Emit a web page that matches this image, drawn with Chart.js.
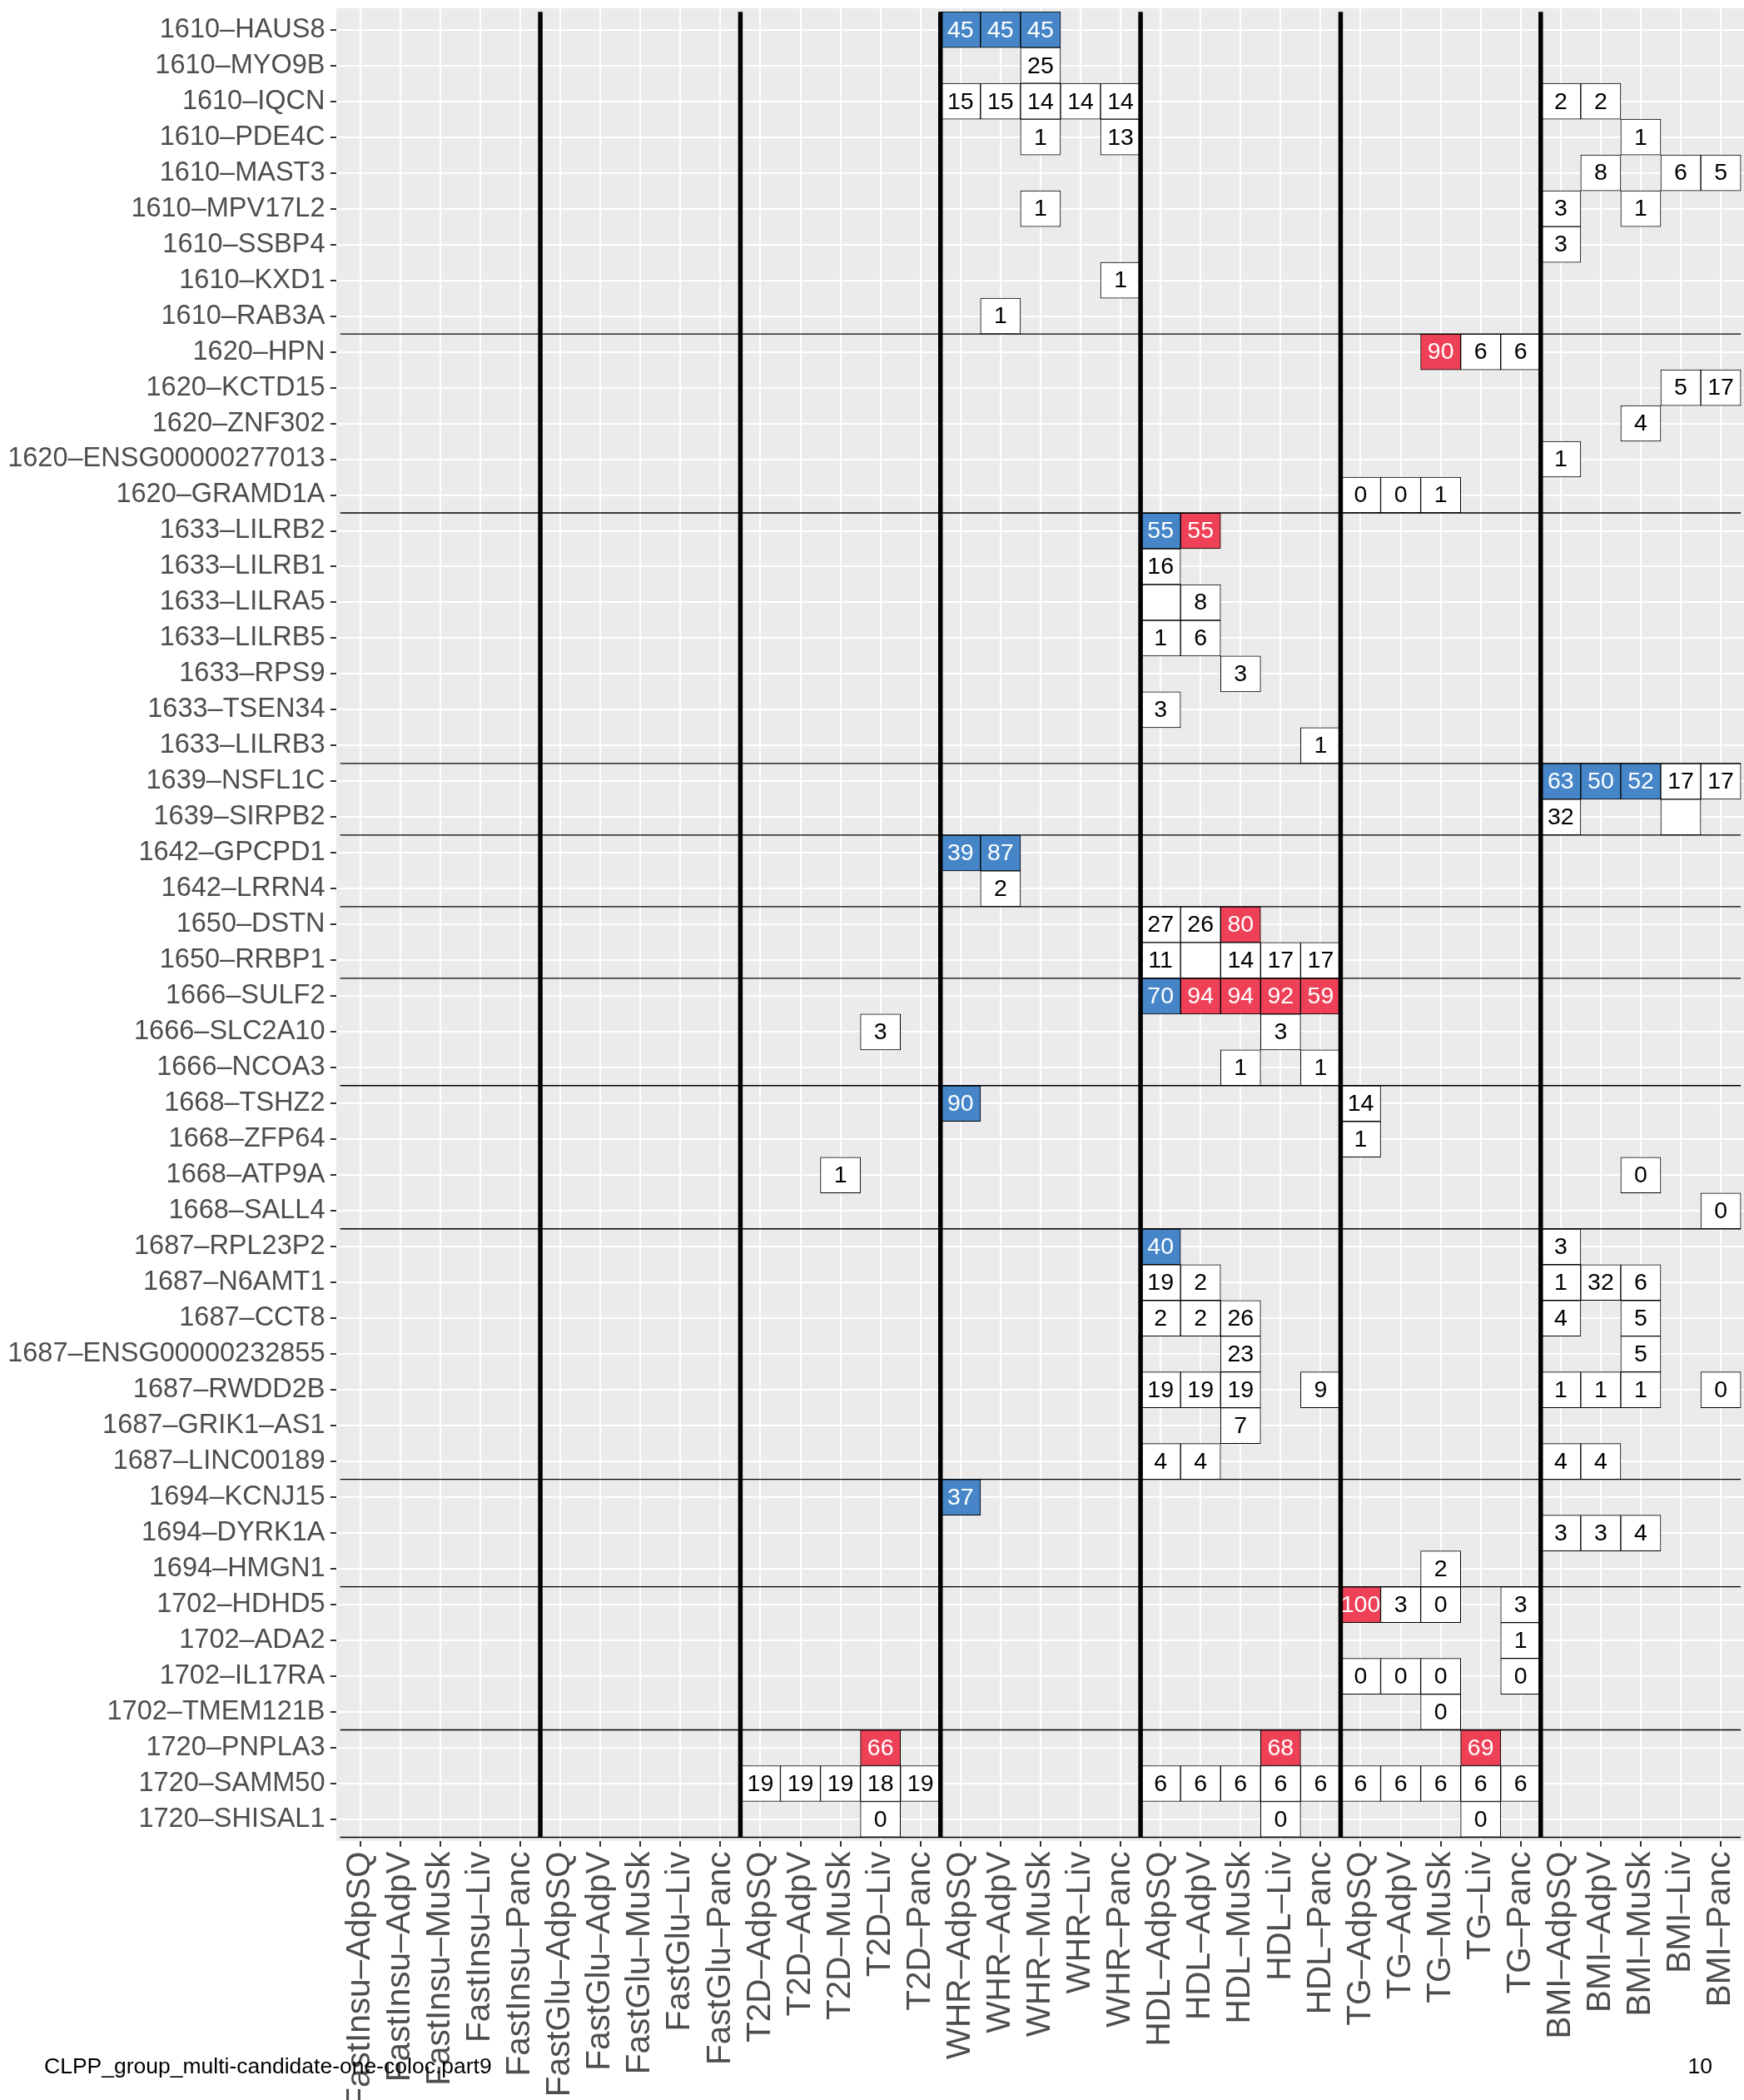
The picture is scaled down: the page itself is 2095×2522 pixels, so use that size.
<!DOCTYPE html>
<html>
<head>
<meta charset="utf-8">
<title>CLPP_group_multi-candidate-one-coloc.part9</title>
<script src="https://cdn.jsdelivr.net/npm/chart.js@4.4.1/dist/chart.umd.min.js"></script>
<style>
    html, body { margin: 0; padding: 0; background: #ffffff; }
    #area { position: relative; width: 2095px; height: 2522px; overflow: hidden; }
    #grafico { position: absolute; left: 0; top: 0; }
    .rodape {
        position: absolute;
        top: 2468px;
        font: 26.5px "Liberation Sans", Arial, sans-serif;
        line-height: 1;
        color: #000000;
        white-space: nowrap;
    }
</style>
</head>
<body>
<div id="area">
    <canvas id="grafico" width="2095" height="2522"></canvas>
    <div class="rodape" style="left: 53px;">CLPP_group_multi-candidate-one-coloc.part9</div>
    <div class="rodape" style="right: 38px;">10</div>
</div>

<script>
// linhas do eixo y, de cima para baixo
var linhas = [
    '1610–HAUS8', '1610–MYO9B', '1610–IQCN', '1610–PDE4C', '1610–MAST3',
    '1610–MPV17L2', '1610–SSBP4', '1610–KXD1', '1610–RAB3A',
    '1620–HPN', '1620–KCTD15', '1620–ZNF302', '1620–ENSG00000277013', '1620–GRAMD1A',
    '1633–LILRB2', '1633–LILRB1', '1633–LILRA5', '1633–LILRB5', '1633–RPS9',
    '1633–TSEN34', '1633–LILRB3',
    '1639–NSFL1C', '1639–SIRPB2',
    '1642–GPCPD1', '1642–LRRN4',
    '1650–DSTN', '1650–RRBP1',
    '1666–SULF2', '1666–SLC2A10', '1666–NCOA3',
    '1668–TSHZ2', '1668–ZFP64', '1668–ATP9A', '1668–SALL4',
    '1687–RPL23P2', '1687–N6AMT1', '1687–CCT8', '1687–ENSG00000232855',
    '1687–RWDD2B', '1687–GRIK1–AS1', '1687–LINC00189',
    '1694–KCNJ15', '1694–DYRK1A', '1694–HMGN1',
    '1702–HDHD5', '1702–ADA2', '1702–IL17RA', '1702–TMEM121B',
    '1720–PNPLA3', '1720–SAMM50', '1720–SHISAL1'
];

// colunas do eixo x: traço x tecido
var tracos = ['FastInsu', 'FastGlu', 'T2D', 'WHR', 'HDL', 'TG', 'BMI'];
var tecidos = ['AdpSQ', 'AdpV', 'MuSk', 'Liv', 'Panc'];
var colunas = [];
tracos.forEach(function (t) {
    tecidos.forEach(function (s) { colunas.push(t + '–' + s); });
});

// celulas: [linha, coluna, valor]  (null = celula sem numero)
var celulasAzuis = [
    ['1610–HAUS8', 'WHR–AdpSQ', 45], ['1610–HAUS8', 'WHR–AdpV', 45], ['1610–HAUS8', 'WHR–MuSk', 45],
    ['1633–LILRB2', 'HDL–AdpSQ', 55],
    ['1639–NSFL1C', 'BMI–AdpSQ', 63], ['1639–NSFL1C', 'BMI–AdpV', 50], ['1639–NSFL1C', 'BMI–MuSk', 52],
    ['1642–GPCPD1', 'WHR–AdpSQ', 39], ['1642–GPCPD1', 'WHR–AdpV', 87],
    ['1666–SULF2', 'HDL–AdpSQ', 70],
    ['1668–TSHZ2', 'WHR–AdpSQ', 90],
    ['1687–RPL23P2', 'HDL–AdpSQ', 40],
    ['1694–KCNJ15', 'WHR–AdpSQ', 37]
];

var celulasVermelhas = [
    ['1620–HPN', 'TG–MuSk', 90],
    ['1633–LILRB2', 'HDL–AdpV', 55],
    ['1650–DSTN', 'HDL–MuSk', 80],
    ['1666–SULF2', 'HDL–AdpV', 94], ['1666–SULF2', 'HDL–MuSk', 94],
    ['1666–SULF2', 'HDL–Liv', 92], ['1666–SULF2', 'HDL–Panc', 59],
    ['1702–HDHD5', 'TG–AdpSQ', 100],
    ['1720–PNPLA3', 'T2D–Liv', 66], ['1720–PNPLA3', 'HDL–Liv', 68], ['1720–PNPLA3', 'TG–Liv', 69]
];

var celulasBrancas = [
    ['1610–MYO9B', 'WHR–MuSk', 25],
    ['1610–IQCN', 'WHR–AdpSQ', 15], ['1610–IQCN', 'WHR–AdpV', 15], ['1610–IQCN', 'WHR–MuSk', 14],
    ['1610–IQCN', 'WHR–Liv', 14], ['1610–IQCN', 'WHR–Panc', 14],
    ['1610–IQCN', 'BMI–AdpSQ', 2], ['1610–IQCN', 'BMI–AdpV', 2],
    ['1610–PDE4C', 'WHR–MuSk', 1], ['1610–PDE4C', 'WHR–Panc', 13], ['1610–PDE4C', 'BMI–MuSk', 1],
    ['1610–MAST3', 'BMI–AdpV', 8], ['1610–MAST3', 'BMI–Liv', 6], ['1610–MAST3', 'BMI–Panc', 5],
    ['1610–MPV17L2', 'WHR–MuSk', 1], ['1610–MPV17L2', 'BMI–AdpSQ', 3], ['1610–MPV17L2', 'BMI–MuSk', 1],
    ['1610–SSBP4', 'BMI–AdpSQ', 3],
    ['1610–KXD1', 'WHR–Panc', 1],
    ['1610–RAB3A', 'WHR–AdpV', 1],
    ['1620–HPN', 'TG–Liv', 6], ['1620–HPN', 'TG–Panc', 6],
    ['1620–KCTD15', 'BMI–Liv', 5], ['1620–KCTD15', 'BMI–Panc', 17],
    ['1620–ZNF302', 'BMI–MuSk', 4],
    ['1620–ENSG00000277013', 'BMI–AdpSQ', 1],
    ['1620–GRAMD1A', 'TG–AdpSQ', 0], ['1620–GRAMD1A', 'TG–AdpV', 0], ['1620–GRAMD1A', 'TG–MuSk', 1],
    ['1633–LILRB1', 'HDL–AdpSQ', 16],
    ['1633–LILRA5', 'HDL–AdpSQ', null], ['1633–LILRA5', 'HDL–AdpV', 8],
    ['1633–LILRB5', 'HDL–AdpSQ', 1], ['1633–LILRB5', 'HDL–AdpV', 6],
    ['1633–RPS9', 'HDL–MuSk', 3],
    ['1633–TSEN34', 'HDL–AdpSQ', 3],
    ['1633–LILRB3', 'HDL–Panc', 1],
    ['1639–NSFL1C', 'BMI–Liv', 17], ['1639–NSFL1C', 'BMI–Panc', 17],
    ['1639–SIRPB2', 'BMI–AdpSQ', 32], ['1639–SIRPB2', 'BMI–Liv', null],
    ['1642–LRRN4', 'WHR–AdpV', 2],
    ['1650–DSTN', 'HDL–AdpSQ', 27], ['1650–DSTN', 'HDL–AdpV', 26],
    ['1650–RRBP1', 'HDL–AdpSQ', 11], ['1650–RRBP1', 'HDL–AdpV', null], ['1650–RRBP1', 'HDL–MuSk', 14],
    ['1650–RRBP1', 'HDL–Liv', 17], ['1650–RRBP1', 'HDL–Panc', 17],
    ['1666–SLC2A10', 'T2D–Liv', 3], ['1666–SLC2A10', 'HDL–Liv', 3],
    ['1666–NCOA3', 'HDL–MuSk', 1], ['1666–NCOA3', 'HDL–Panc', 1],
    ['1668–TSHZ2', 'TG–AdpSQ', 14],
    ['1668–ZFP64', 'TG–AdpSQ', 1],
    ['1668–ATP9A', 'T2D–MuSk', 1], ['1668–ATP9A', 'BMI–MuSk', 0],
    ['1668–SALL4', 'BMI–Panc', 0],
    ['1687–RPL23P2', 'BMI–AdpSQ', 3],
    ['1687–N6AMT1', 'HDL–AdpSQ', 19], ['1687–N6AMT1', 'HDL–AdpV', 2],
    ['1687–N6AMT1', 'BMI–AdpSQ', 1], ['1687–N6AMT1', 'BMI–AdpV', 32], ['1687–N6AMT1', 'BMI–MuSk', 6],
    ['1687–CCT8', 'HDL–AdpSQ', 2], ['1687–CCT8', 'HDL–AdpV', 2], ['1687–CCT8', 'HDL–MuSk', 26],
    ['1687–CCT8', 'BMI–AdpSQ', 4], ['1687–CCT8', 'BMI–MuSk', 5],
    ['1687–ENSG00000232855', 'HDL–MuSk', 23], ['1687–ENSG00000232855', 'BMI–MuSk', 5],
    ['1687–RWDD2B', 'HDL–AdpSQ', 19], ['1687–RWDD2B', 'HDL–AdpV', 19], ['1687–RWDD2B', 'HDL–MuSk', 19],
    ['1687–RWDD2B', 'HDL–Panc', 9],
    ['1687–RWDD2B', 'BMI–AdpSQ', 1], ['1687–RWDD2B', 'BMI–AdpV', 1], ['1687–RWDD2B', 'BMI–MuSk', 1],
    ['1687–RWDD2B', 'BMI–Panc', 0],
    ['1687–GRIK1–AS1', 'HDL–MuSk', 7],
    ['1687–LINC00189', 'HDL–AdpSQ', 4], ['1687–LINC00189', 'HDL–AdpV', 4],
    ['1687–LINC00189', 'BMI–AdpSQ', 4], ['1687–LINC00189', 'BMI–AdpV', 4],
    ['1694–DYRK1A', 'BMI–AdpSQ', 3], ['1694–DYRK1A', 'BMI–AdpV', 3], ['1694–DYRK1A', 'BMI–MuSk', 4],
    ['1694–HMGN1', 'TG–MuSk', 2],
    ['1702–HDHD5', 'TG–AdpV', 3], ['1702–HDHD5', 'TG–MuSk', 0], ['1702–HDHD5', 'TG–Panc', 3],
    ['1702–ADA2', 'TG–Panc', 1],
    ['1702–IL17RA', 'TG–AdpSQ', 0], ['1702–IL17RA', 'TG–AdpV', 0], ['1702–IL17RA', 'TG–MuSk', 0],
    ['1702–IL17RA', 'TG–Panc', 0],
    ['1702–TMEM121B', 'TG–MuSk', 0],
    ['1720–SAMM50', 'T2D–AdpSQ', 19], ['1720–SAMM50', 'T2D–AdpV', 19], ['1720–SAMM50', 'T2D–MuSk', 19],
    ['1720–SAMM50', 'T2D–Liv', 18], ['1720–SAMM50', 'T2D–Panc', 19],
    ['1720–SAMM50', 'HDL–AdpSQ', 6], ['1720–SAMM50', 'HDL–AdpV', 6], ['1720–SAMM50', 'HDL–MuSk', 6],
    ['1720–SAMM50', 'HDL–Liv', 6], ['1720–SAMM50', 'HDL–Panc', 6],
    ['1720–SAMM50', 'TG–AdpSQ', 6], ['1720–SAMM50', 'TG–AdpV', 6], ['1720–SAMM50', 'TG–MuSk', 6],
    ['1720–SAMM50', 'TG–Liv', 6], ['1720–SAMM50', 'TG–Panc', 6],
    ['1720–SHISAL1', 'T2D–Liv', 0], ['1720–SHISAL1', 'HDL–Liv', 0], ['1720–SHISAL1', 'TG–Liv', 0]
];

var fonte = '"Liberation Sans", Arial, Helvetica, sans-serif';
var corAzul = '#4686C8';
var corVermelha = '#EE4056';

// onde o painel deve ficar na tela
var areaAlvo = { left: 403.9, top: 9.9, bottom: 2210.8 };

// linhas pretas: entre tracos (verticais) e entre grupos de locus (horizontais)
var quebrasTraco = [];
for (var t = 1; t < tracos.length; t++) quebrasTraco.push(t * tecidos.length + 0.5);

var quebrasGrupo = [];
for (var i = 1; i < linhas.length; i++) {
    if (linhas[i].split('–')[0] != linhas[i - 1].split('–')[0]) quebrasGrupo.push(i + 0.5);
}
quebrasGrupo.push(linhas.length + 0.5);

function paraBarras(celulas) {
    return celulas.map(function (c) {
        var col = colunas.indexOf(c[1]) + 1;
        return { y: linhas.indexOf(c[0]) + 1, x: [col - 0.5, col + 0.5] };
    });
}

function datasetCelulas(celulas, fundo, corTexto) {
    return {
        type: 'bar',
        indexAxis: 'y',
        data: paraBarras(celulas),
        rotulos: celulas.map(function (c) { return c[2]; }),
        corTexto: corTexto,
        backgroundColor: fundo,
        borderColor: '#000000',
        borderWidth: 1,
        borderSkipped: false,
        grouped: false,
        barPercentage: 1,
        categoryPercentage: 1,
        order: 2
    };
}

function datasetLinha(pontos, largura) {
    return {
        type: 'line',
        data: pontos,
        borderColor: '#000000',
        borderWidth: largura,
        pointRadius: 0,
        fill: false,
        tension: 0,
        order: 0
    };
}

var datasets = [
    datasetCelulas(celulasBrancas, '#FFFFFF', '#000000'),
    datasetCelulas(celulasAzuis, corAzul, '#FFFFFF'),
    datasetCelulas(celulasVermelhas, corVermelha, '#FFFFFF')
];
quebrasGrupo.forEach(function (q) {
    datasets.push(datasetLinha([{ x: 0.5, y: q }, { x: colunas.length + 0.5, y: q }], 1.4));
});
quebrasTraco.forEach(function (q) {
    datasets.push(datasetLinha([{ x: q, y: 0.5 }, { x: q, y: linhas.length + 0.5 }], 5.5));
});

// fundo cinza do painel
var fundoPainel = {
    id: 'fundoPainel',
    beforeDraw: function (chart) {
        var ctx = chart.ctx;
        var a = chart.chartArea;
        ctx.save();
        ctx.fillStyle = '#FFFFFF';
        ctx.fillRect(0, 0, chart.width, chart.height);
        ctx.fillStyle = '#EBEBEB';
        ctx.fillRect(a.left, a.top, a.right - a.left, a.bottom - a.top);
        ctx.restore();
    }
};

// numeros dentro das celulas
var numerosCelulas = {
    id: 'numerosCelulas',
    afterDatasetsDraw: function (chart) {
        var ctx = chart.ctx;
        ctx.save();
        ctx.font = '28.5px ' + fonte;
        ctx.textAlign = 'center';
        ctx.textBaseline = 'middle';
        chart.data.datasets.forEach(function (ds, i) {
            if (!ds.rotulos) return;
            var meta = chart.getDatasetMeta(i);
            meta.data.forEach(function (barra, j) {
                var v = ds.rotulos[j];
                if (v === null) return;
                var p = barra.getProps(['x', 'y', 'base'], true);
                ctx.fillStyle = ds.corTexto;
                ctx.fillText(String(v), (p.x + p.base) / 2, p.y + 1);
            });
        });
        ctx.restore();
    }
};

var grade = { offset: false, color: '#FFFFFF', lineWidth: 2, tickColor: '#333333', tickLength: 7, tickWidth: 2 };

new Chart(document.getElementById('grafico'), {
    type: 'bar',
    data: { datasets: datasets },
    plugins: [fundoPainel, numerosCelulas],
    options: {
        responsive: false,
        animation: false,
        devicePixelRatio: 1,
        events: [],
        layout: { autoPadding: false, padding: { top: areaAlvo.top, left: 0, right: 0, bottom: 0 } },
        plugins: { legend: { display: false }, tooltip: { enabled: false } },
        scales: {
            x: {
                type: 'linear',
                position: 'bottom',
                offset: false,
                min: 0.4,
                max: 35.58,
                afterBuildTicks: function (s) {
                    s.ticks = colunas.map(function (c, k) { return { value: k + 1 }; });
                },
                afterFit: function (s) {
                    s.height = 2522 - areaAlvo.bottom;
                    s.paddingLeft = 0;
                    s.paddingRight = 0;
                },
                ticks: {
                    autoSkip: false,
                    minRotation: 90,
                    maxRotation: 90,
                    padding: 5.6,
                    color: '#4D4D4D',
                    font: { family: fonte, size: 40.5 },
                    callback: function (v) { return colunas[Math.round(v) - 1]; }
                },
                grid: grade,
                border: { display: false }
            },
            y: {
                type: 'linear',
                position: 'left',
                offset: false,
                beginAtZero: false,
                min: 0.4,
                max: 51.6,
                reverse: true,
                afterBuildTicks: function (s) {
                    s.ticks = linhas.map(function (l, k) { return { value: k + 1 }; });
                },
                afterFit: function (s) {
                    s.width = areaAlvo.left;
                    s.paddingTop = 0;
                    s.paddingBottom = 0;
                },
                ticks: {
                    autoSkip: false,
                    padding: 6.4,
                    color: '#4D4D4D',
                    font: { family: fonte, size: 32.5 },
                    callback: function (v) { return linhas[Math.round(v) - 1]; }
                },
                grid: grade,
                border: { display: false }
            }
        }
    }
});
</script>
</body>
</html>
